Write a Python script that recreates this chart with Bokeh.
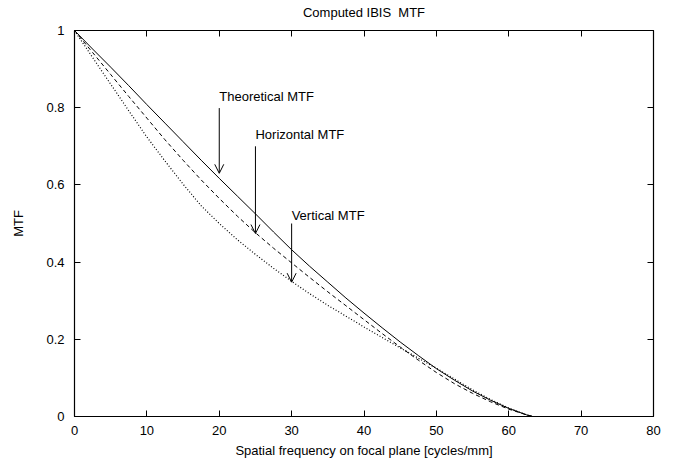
from bokeh.plotting import figure
from bokeh.models import (Range1d, FixedTicker, LinearAxis, CustomJSTickFormatter,
                          Label, Arrow, OpenHead)
from bokeh.embed import file_html
from bokeh.resources import INLINE

# ---- data ----
freq = [0, 2.5, 5, 7.5, 10, 12.5, 15, 17.5, 20, 22.5, 25, 27.5, 30, 32.5, 35, 37.5,
        40, 42.5, 45, 47.5, 50, 52.5, 55, 57.5, 60, 62.5, 63.3]
theoretical = [1.0, 0.952, 0.905, 0.857, 0.808, 0.760, 0.712, 0.664, 0.617, 0.571, 0.525,
               0.478, 0.432, 0.389, 0.348, 0.307, 0.268, 0.230, 0.193, 0.158, 0.124,
               0.094, 0.066, 0.042, 0.021, 0.004, 0.0]
horizontal = [1.0, 0.943, 0.886, 0.829, 0.773, 0.717, 0.664, 0.613, 0.565, 0.519, 0.476,
              0.436, 0.398, 0.360, 0.323, 0.287, 0.251, 0.215, 0.180, 0.146, 0.114,
              0.085, 0.060, 0.038, 0.019, 0.004, 0.0]
vertical = [1.0, 0.930, 0.861, 0.792, 0.724, 0.662, 0.602, 0.546, 0.500, 0.458, 0.420,
            0.384, 0.350, 0.318, 0.288, 0.260, 0.232, 0.205, 0.178, 0.151, 0.125,
            0.097, 0.069, 0.044, 0.022, 0.004, 0.0]

x_ticks = [0, 10, 20, 30, 40, 50, 60, 70, 80]
y_ticks = [0, 0.2, 0.4, 0.6, 0.8, 1]

title_text = "Computed IBIS\u00a0 MTF"

# annotations: (text, x, text_y, arrow_start_y, arrow_end_y)
notes = [
    ("Theoretical MTF", 20, 0.830, 0.799, 0.630),
    ("Horizontal MTF", 25, 0.730, 0.700, 0.474),
    ("Vertical MTF", 30, 0.520, 0.500, 0.348),
]

FONT = "Liberation Sans"
FS = "13px"

p = figure(width=670, height=460, output_backend="svg", toolbar_location=None,
           x_range=Range1d(0, 80), y_range=Range1d(0, 1),
           min_border_left=74, min_border_right=17, min_border_top=30, min_border_bottom=41)
p.background_fill_color = "white"
p.border_fill_color = "white"
p.outline_line_color = "black"
p.outline_line_width = 1.2
p.xgrid.visible = False
p.ygrid.visible = False

p.line(freq, theoretical, line_color="black", line_width=1)
p.line(freq, horizontal, line_color="black", line_width=1, line_dash="4 3")
p.line(freq, vertical, line_color="black", line_width=1.2, line_dash="1 2")

def style(ax, ticks, labels=True):
    ax.ticker = FixedTicker(ticks=ticks)
    ax.axis_line_color = None
    ax.major_tick_in = 6
    ax.major_tick_out = 0
    ax.major_tick_line_color = "black"
    ax.major_tick_line_width = 1
    ax.minor_tick_line_color = None
    ax.major_label_text_font = FONT
    ax.major_label_text_font_size = FS
    ax.major_label_text_color = "black"
    ax.axis_label_text_font = FONT
    ax.axis_label_text_font_size = FS
    ax.axis_label_text_font_style = "normal"
    ax.axis_label_text_color = "black"
    if not labels:
        ax.formatter = CustomJSTickFormatter(code="return ''")
        ax.major_label_standoff = 0
        ax.major_label_text_font_size = "0px"

xa = p.xaxis[0]
style(xa, x_ticks)
xa.major_label_standoff = 9
xa.axis_label = "Spatial frequency on focal plane [cycles/mm]"
xa.axis_label_standoff = 5

ya = p.yaxis[0]
style(ya, y_ticks)
ya.formatter = CustomJSTickFormatter(code="return tick.toString()")
ya.major_label_standoff = 10
ya.axis_label = "MTF"
ya.axis_label_standoff = 17

# mirrored top axis carries the chart title as its label
top = LinearAxis()
style(top, x_ticks, labels=False)
top.axis_label = title_text
top.axis_label_standoff = 11
p.add_layout(top, "above")

right = LinearAxis()
style(right, y_ticks, labels=False)
p.add_layout(right, "right")

for txt, x, ty, ys, ye in notes:
    p.add_layout(Label(x=x, y=ty, text=txt, text_align="left", text_baseline="middle",
                       text_font=FONT, text_font_size=FS, text_color="black"))
    p.add_layout(Arrow(end=OpenHead(size=9, line_width=1, line_color="black"),
                       x_start=x, y_start=ys, x_end=x, y_end=ye,
                       line_color="black", line_width=1))

open("out.html", "w").write(file_html(p, INLINE))
